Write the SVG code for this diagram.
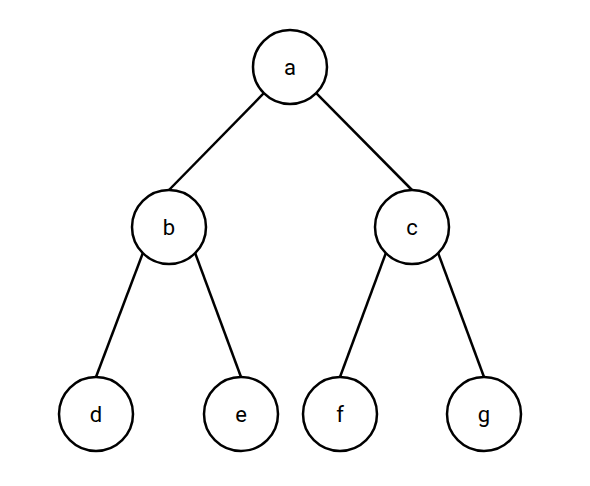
<svg xmlns="http://www.w3.org/2000/svg" width="590" height="486" viewBox="0 0 590 486">
<style>
.n circle{fill:#fff;stroke:#000;stroke-width:2.5}
.n text{font-family:Roboto,"Liberation Sans",Arial,sans-serif;font-size:22px;fill:#000;text-anchor:middle;dominant-baseline:central}
#edges line{stroke:#000;stroke-width:2.5}
</style>
<rect width="590" height="486" fill="#fff"/>
<g id="edges">
<line x1="263.8" y1="93.2" x2="169" y2="190"/>
<line x1="316.2" y1="93.2" x2="412" y2="190"/>
<line x1="142.8" y1="253.2" x2="96" y2="377"/>
<line x1="195.2" y1="253.2" x2="241" y2="377"/>
<line x1="385.8" y1="253.2" x2="340" y2="377"/>
<line x1="438.2" y1="253.2" x2="484" y2="377"/>
</g>
<g id="a" class="n"><circle cx="290" cy="67" r="37"/><text x="290" y="67">a</text></g>
<g id="b" class="n"><circle cx="169" cy="227" r="37"/><text x="169" y="227">b</text></g>
<g id="c" class="n"><circle cx="412" cy="227" r="37"/><text x="412" y="227">c</text></g>
<g id="d" class="n"><circle cx="96" cy="414" r="37"/><text x="96" y="414">d</text></g>
<g id="e" class="n"><circle cx="241" cy="414" r="37"/><text x="241" y="414">e</text></g>
<g id="f" class="n"><circle cx="340" cy="414" r="37"/><text x="340" y="414">f</text></g>
<g id="g" class="n"><circle cx="484" cy="414" r="37"/><text x="484" y="414">g</text></g>
</svg>
